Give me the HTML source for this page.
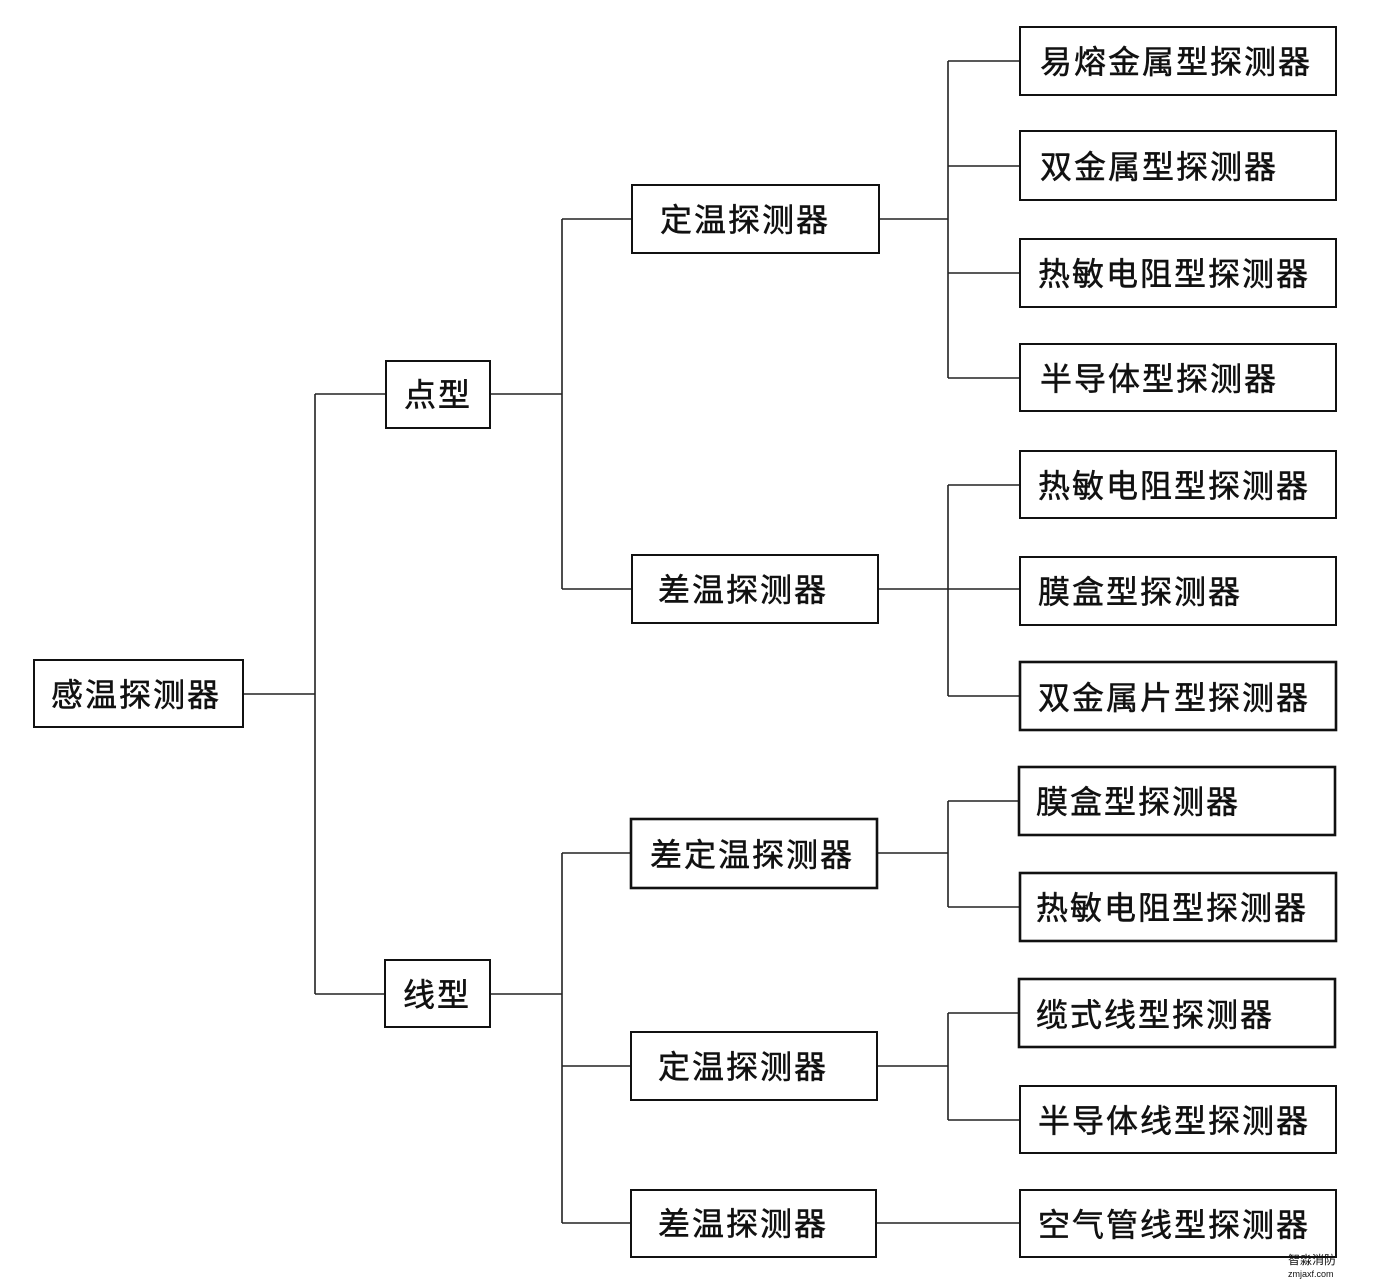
<!DOCTYPE html>
<html><head><meta charset="utf-8"><style>
html,body{margin:0;padding:0;background:#fff;}
svg{display:block}
text{font-family:"Liberation Sans","Noto Sans CJK SC","WenQuanYi Zen Hei",sans-serif;font-size:32px;letter-spacing:2px;fill:#111;stroke:#111;stroke-width:0.5px;}
</style></head><body>
<svg width="1379" height="1287" viewBox="0 0 1379 1287" xmlns="http://www.w3.org/2000/svg">
<g stroke="#222" stroke-width="1.6" fill="none">
<path d="M243 694H315M315 394V994M315 394H386M315 994H385"/>
<path d="M490 394H562M562 219V589M562 219H632M562 589H632"/>
<path d="M490 994H562M562 853V1223M562 853H631M562 1066H631M562 1223H631"/>
<path d="M879 219H948M948 61V378M948 61H1020M948 166H1020M948 273H1020M948 378H1020"/>
<path d="M878 589H1020M948 485V696M948 485H1020M948 696H1020"/>
<path d="M877 853H948M948 801V907M948 801H1020M948 907H1020"/>
<path d="M877 1066H948M948 1013V1120M948 1013H1020M948 1120H1020"/>
<path d="M876 1223H1020"/>
</g>
<g stroke="#111" stroke-width="2" fill="#fff">
<rect x="34" y="660" width="209" height="67"/>
<rect x="386" y="361" width="104" height="67"/>
<rect x="385" y="960" width="105" height="67"/>
<rect x="632" y="185" width="247" height="68"/>
<rect x="632" y="555" width="246" height="68"/>
<rect x="631" y="819" width="246" height="69" stroke-width="2.6"/>
<rect x="631" y="1032" width="246" height="68"/>
<rect x="631" y="1190" width="245" height="67"/>
<rect x="1020" y="27" width="316" height="68"/>
<rect x="1020" y="131" width="316" height="69"/>
<rect x="1020" y="239" width="316" height="68"/>
<rect x="1020" y="344" width="316" height="67"/>
<rect x="1020" y="451" width="316" height="67"/>
<rect x="1020" y="557" width="316" height="68"/>
<rect x="1020" y="662" width="316" height="68" stroke-width="2.6"/>
<rect x="1019" y="767" width="316" height="68" stroke-width="2.6"/>
<rect x="1020" y="873" width="316" height="68" stroke-width="2.6"/>
<rect x="1019" y="979" width="316" height="68" stroke-width="2.6"/>
<rect x="1020" y="1086" width="316" height="67"/>
<rect x="1020" y="1190" width="316" height="67"/>
</g>
<g>
<text x="51" y="706">感温探测器</text>
<text x="404" y="406">点型</text>
<text x="403" y="1006">线型</text>
<text x="660" y="231">定温探测器</text>
<text x="658" y="601">差温探测器</text>
<text x="650" y="866">差定温探测器</text>
<text x="658" y="1078">定温探测器</text>
<text x="658" y="1235">差温探测器</text>
<text x="1040" y="73">易熔金属型探测器</text>
<text x="1040" y="178">双金属型探测器</text>
<text x="1038" y="285">热敏电阻型探测器</text>
<text x="1040" y="390">半导体型探测器</text>
<text x="1038" y="497">热敏电阻型探测器</text>
<text x="1038" y="603">膜盒型探测器</text>
<text x="1038" y="709">双金属片型探测器</text>
<text x="1036" y="813">膜盒型探测器</text>
<text x="1036" y="919">热敏电阻型探测器</text>
<text x="1036" y="1026">缆式线型探测器</text>
<text x="1038" y="1132">半导体线型探测器</text>
<text x="1038" y="1236">空气管线型探测器</text>
<text x="1288" y="1264" style="font-size:12px;letter-spacing:0;stroke-width:0">智淼消防</text>
<text x="1288" y="1277" style="font-size:9px;letter-spacing:0;stroke-width:0">zmjaxf.com</text>
</g>
</svg>
</body></html>
